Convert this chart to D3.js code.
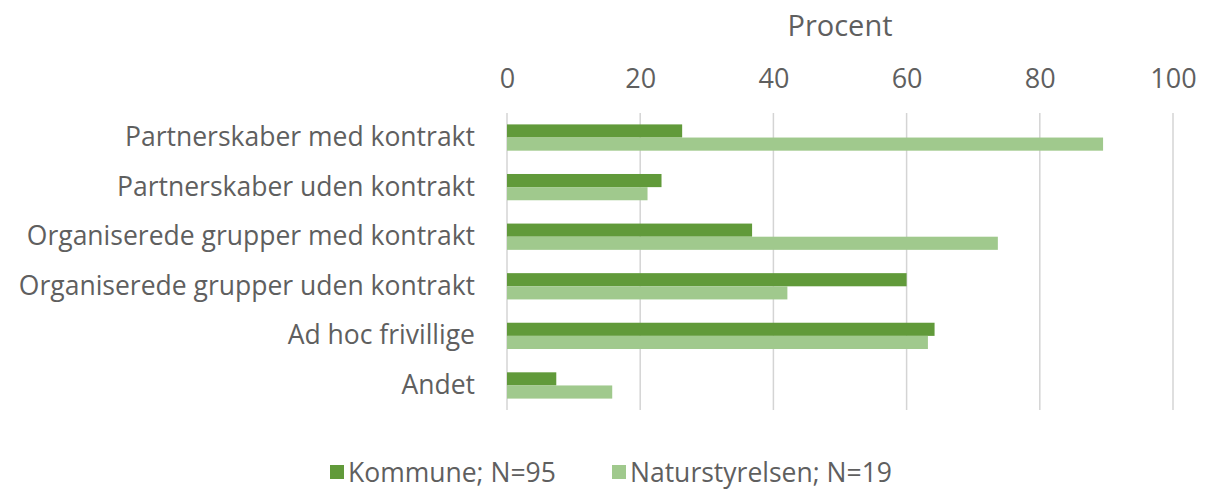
<!DOCTYPE html>
<html>
<head>
<meta charset="utf-8">
<script src="https://cdn.jsdelivr.net/npm/d3@7"></script>
<style>
  body { margin: 0; background: #fff; }
  text { font-family: "Open Sans", "Noto Sans", sans-serif; fill: #5f5f5f; }
</style>
</head>
<body>
<svg id="chart"></svg>
<script>
// Data
var categories = [
  "Partnerskaber med kontrakt",
  "Partnerskaber uden kontrakt",
  "Organiserede grupper med kontrakt",
  "Organiserede grupper uden kontrakt",
  "Ad hoc frivillige",
  "Andet"
];
var seriesNames = ["Kommune; N=95", "Naturstyrelsen; N=19"];
var kommune = [26.3, 23.2, 36.8, 60.0, 64.2, 7.4];
var naturstyrelsen = [89.5, 21.1, 73.7, 42.1, 63.2, 15.8];
var tickValues = [0, 20, 40, 60, 80, 100];
var colors = ["#619a3a", "#a0c98d"];

var width = 1208, height = 496;
var margin = {top: 113, bottom: 86, left: 507, right: 35};
var innerW = width - margin.left - margin.right;
var innerH = height - margin.top - margin.bottom;

var svg = d3.select("#chart")
  .attr("width", width)
  .attr("height", height);

var chart = svg.append("g")
  .attr("transform", "translate(" + margin.left + "," + margin.top + ")");

// Scales
var x = d3.scaleLinear().domain([0, 100]).range([0, innerW]);
var y = d3.scaleBand().domain(categories).range([0, innerH]).paddingInner(0.47).paddingOuter(0.23);
var ySub = d3.scaleBand().domain([0, 1]).range([0, y.bandwidth()]);

// Gridlines
chart.append("g")
  .selectAll("line")
  .data(tickValues)
  .enter()
.append("line")
  .attr("x1", function(d) { return x(d); })
  .attr("x2", function(d) { return x(d); })
  .attr("y1", 0)
  .attr("y2", innerH)
  .attr("stroke", "#d4d4d4")
  .attr("stroke-width", 1.5);

// Top axis labels
var xaxis = d3.axisTop(x).tickValues(tickValues).tickSize(0).tickPadding(0);
var xg = chart.append("g")
  .attr("transform", "translate(0,-25)")
  .call(xaxis);
xg.select(".domain").remove();
xg.selectAll("text")
  .attr("fill", "#5f5f5f")
  .style("font-size", "27px")
  .style("font-family", "'Open Sans', sans-serif");

// Axis title
svg.append("text")
  .attr("x", margin.left + innerW / 2)
  .attr("y", 36)
  .attr("text-anchor", "middle")
  .style("font-size", "29px")
  .text("Procent");

// Category labels
var yaxis = d3.axisLeft(y).tickSize(0).tickPadding(32);
var yg = chart.append("g").call(yaxis);
yg.select(".domain").remove();
yg.selectAll("text")
  .attr("fill", "#5f5f5f")
  .style("font-size", "26.5px")
  .style("font-family", "'Open Sans', sans-serif");

// Bars
var rows = categories.map(function(c, i) {
  return {cat: c, values: [kommune[i], naturstyrelsen[i]]};
});

var group = chart.selectAll("g.row")
  .data(rows)
  .enter()
.append("g")
  .attr("class", "row")
  .attr("transform", function(d) { return "translate(0," + y(d.cat) + ")"; });

group.selectAll("rect")
  .data(function(d) { return d.values; })
  .enter()
.append("rect")
  .attr("x", x(0))
  .attr("y", function(d, i) { return ySub(i); })
  .attr("width", function(d) { return x(d) - x(0); })
  .attr("height", ySub.bandwidth())
  .attr("fill", function(d, i) { return colors[i]; });

// Legend
var legendPos = [330, 612];
var legend = svg.selectAll("g.legend")
  .data(seriesNames)
  .enter()
.append("g")
  .attr("class", "legend")
  .attr("transform", function(d, i) { return "translate(" + legendPos[i] + ",465)"; });

legend.append("rect")
  .attr("width", 14)
  .attr("height", 14)
  .attr("fill", function(d, i) { return colors[i]; });

legend.append("text")
  .attr("x", 18)
  .attr("y", 17)
  .style("font-size", "26.5px")
  .text(function(d) { return d; });
</script>
</body>
</html>
